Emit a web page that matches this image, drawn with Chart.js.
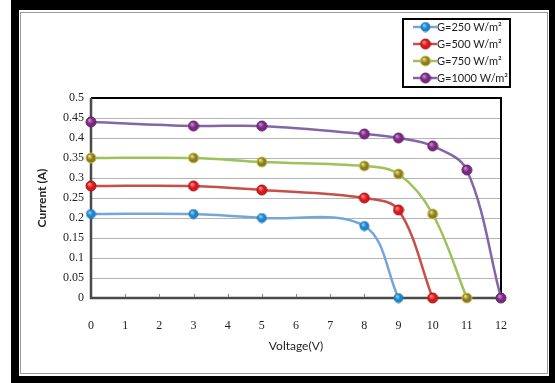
<!DOCTYPE html>
<html>
<head>
<meta charset="utf-8">
<script src="https://cdn.jsdelivr.net/npm/chart.js@4"></script>
<style>
  html, body { margin: 0; padding: 0; background: #fff; }
  body { width: 555px; height: 383px; position: relative; overflow: hidden; }
  #frame { position: absolute; left: 11px; top: 0; width: 544px; height: 383px; background: #000; }
  #panel { position: absolute; left: 19px; top: 10px; width: 530px; height: 366px; background: #fff; }
  #panel::after { content: ""; position: absolute; left: 1px; top: 2px; right: 1px; bottom: 2px; border: 1px solid #9a9a9a; }
  #chart { position: absolute; left: 0; top: 0; }
</style>
</head>
<body>
<div id="frame"></div>
<div id="panel"></div>
<canvas id="chart" width="555" height="383"></canvas>
<script>
// I-V characteristics at four irradiance levels
const seriesLabels = ['G=250 W/m²', 'G=500 W/m²', 'G=750 W/m²', 'G=1000 W/m²'];

const voltage250  = [0, 3, 5, 8, 9];
const current250  = [0.21, 0.21, 0.20, 0.18, 0];

const voltage500  = [0, 3, 5, 8, 9, 10];
const current500  = [0.28, 0.28, 0.27, 0.25, 0.22, 0];

const voltage750  = [0, 3, 5, 8, 9, 10, 11];
const current750  = [0.35, 0.35, 0.34, 0.33, 0.31, 0.21, 0];

const voltage1000 = [0, 3, 5, 8, 9, 10, 11, 12];
const current1000 = [0.44, 0.43, 0.43, 0.41, 0.40, 0.38, 0.32, 0];

const xTickLabels = ['0','1','2','3','4','5','6','7','8','9','10','11','12'];
const yTickLabels = ['0','0.05','0.1','0.15','0.2','0.25','0.3','0.35','0.4','0.45','0.5'];

const lineColors   = ['#74a6dc', '#c4504c', '#9cc25a', '#8466a6'];
const markerBase   = ['#1a86cc', '#d8181c', '#8a7a28', '#7a2a7e'];
const markerLight  = ['#8fd0ff', '#ff8a80', '#e8e070', '#c48ad0'];
const markerEdge   = ['#1f78b8', '#b01014', '#c8c040', '#6a2070'];

// Small shaded sphere used as the point marker
function sphere(i, r) {
  const c = document.createElement('canvas');
  const s = Math.ceil(r * 2 + 2);
  c.width = s; c.height = s;
  const g = c.getContext('2d');
  const cx = s / 2, cy = s / 2;
  const grad = g.createRadialGradient(cx - r * 0.35, cy - r * 0.4, r * 0.1, cx, cy, r);
  grad.addColorStop(0, markerLight[i]);
  grad.addColorStop(0.55, markerBase[i]);
  grad.addColorStop(1, markerBase[i]);
  g.beginPath();
  g.arc(cx, cy, r, 0, Math.PI * 2);
  g.fillStyle = grad;
  g.fill();
  g.lineWidth = 1;
  g.strokeStyle = markerEdge[i];
  g.stroke();
  return c;
}

function toPoints(xs, ys) { return xs.map((x, k) => ({ x: x, y: ys[k] })); }

const seriesData = [
  toPoints(voltage250, current250),
  toPoints(voltage500, current500),
  toPoints(voltage750, current750),
  toPoints(voltage1000, current1000)
];
const markerRadius = [4.5, 5, 5, 5];

const datasets = seriesData.map((pts, i) => ({
  label: seriesLabels[i],
  data: pts,
  borderColor: lineColors[i],
  backgroundColor: lineColors[i],
  borderWidth: 2.5,
  tension: 0.35,
  pointStyle: sphere(i, markerRadius[i]),
  pointRadius: markerRadius[i],
  pointHoverRadius: markerRadius[i],
  clip: false
}));

// Black frame around the plotting area
const plotFrame = {
  id: 'plotFrame',
  beforeDatasetsDraw(chart) {
    const { ctx, chartArea: a } = chart;
    ctx.save();
    ctx.strokeStyle = '#000';
    ctx.lineWidth = 2;
    ctx.beginPath();
    ctx.moveTo(a.left, a.top);
    ctx.lineTo(a.right, a.top);
    ctx.lineTo(a.right, a.bottom);
    ctx.stroke();
    ctx.strokeStyle = '#4a4a4a';
    ctx.lineWidth = 2.5;
    ctx.beginPath();
    ctx.moveTo(a.left, a.top);
    ctx.lineTo(a.left, a.bottom);
    ctx.lineTo(a.right, a.bottom);
    ctx.stroke();
    // small tick marks on the voltage axis
    const xs = chart.scales.x;
    ctx.strokeStyle = '#888';
    ctx.lineWidth = 1;
    for (let v = 1; v < 12; v++) {
      const px = Math.round(xs.getPixelForValue(v)) + 0.5;
      ctx.beginPath();
      ctx.moveTo(px, a.bottom - 4);
      ctx.lineTo(px, a.bottom - 1);
      ctx.stroke();
    }
    ctx.restore();
  }
};

// Boxed legend in the upper right corner
const boxLegend = {
  id: 'boxLegend',
  afterDraw(chart) {
    const { ctx } = chart;
    const bx = 403, by = 19, bw = 107, bh = 68;
    ctx.save();
    ctx.strokeStyle = '#000';
    ctx.lineWidth = 2;
    ctx.strokeRect(bx, by, bw, bh);
    ctx.font = '11px Lato, sans-serif';
    ctx.textBaseline = 'middle';
    chart.data.datasets.forEach((ds, i) => {
      const y = 27 + i * 17;
      ctx.strokeStyle = ds.borderColor;
      ctx.lineWidth = 2.5;
      ctx.beginPath();
      ctx.moveTo(413, y);
      ctx.lineTo(437, y);
      ctx.stroke();
      const img = ds.pointStyle;
      ctx.drawImage(img, 425.5 - img.width / 2, y - img.height / 2);
      ctx.fillStyle = '#222';
      ctx.fillText(ds.label, 437, y);
    });
    ctx.restore();
  }
};

new Chart(document.getElementById('chart'), {
  type: 'line',
  data: { datasets: datasets },
  options: {
    responsive: false,
    animation: false,
    layout: { padding: { left: 0, top: 98, right: 54, bottom: 0 } },
    plugins: { legend: { display: false }, tooltip: { enabled: false } },
    scales: {
      x: {
        type: 'linear',
        min: 0, max: 12,
        afterFit(s) { s.height = 85; },
        afterBuildTicks(s) { s.ticks = xTickLabels.map(t => ({ value: Number(t) })); },
        ticks: {
          padding: 13,
          color: '#222',
          font: { family: '"Liberation Serif", serif', size: 12 },
          callback: (v, k) => xTickLabels[k]
        },
        grid: { display: false },
        border: { display: false },
        title: {
          display: true,
          text: 'Voltage(V)',
          color: '#222',
          font: { family: 'Lato, sans-serif', size: 12 },
          padding: { top: 0, bottom: 30 }
        }
      },
      y: {
        min: 0, max: 0.5,
        afterFit(s) { s.width = 91; },
        afterBuildTicks(s) { s.ticks = yTickLabels.map(t => ({ value: Number(t) })); },
        ticks: {
          padding: 7,
          color: '#222',
          font: { family: '"Liberation Serif", serif', size: 12 },
          callback: (v, k) => yTickLabels[k]
        },
        grid: { color: '#b4b4b4', lineWidth: 1, drawTicks: false },
        border: { display: false },
        title: {
          display: true,
          text: 'Current (A)',
          color: '#222',
          font: { family: 'Lato, sans-serif', size: 12, weight: 'bold' },
          padding: { top: 35, bottom: 0 }
        }
      }
    }
  },
  plugins: [plotFrame, boxLegend]
});
</script>
</body>
</html>
